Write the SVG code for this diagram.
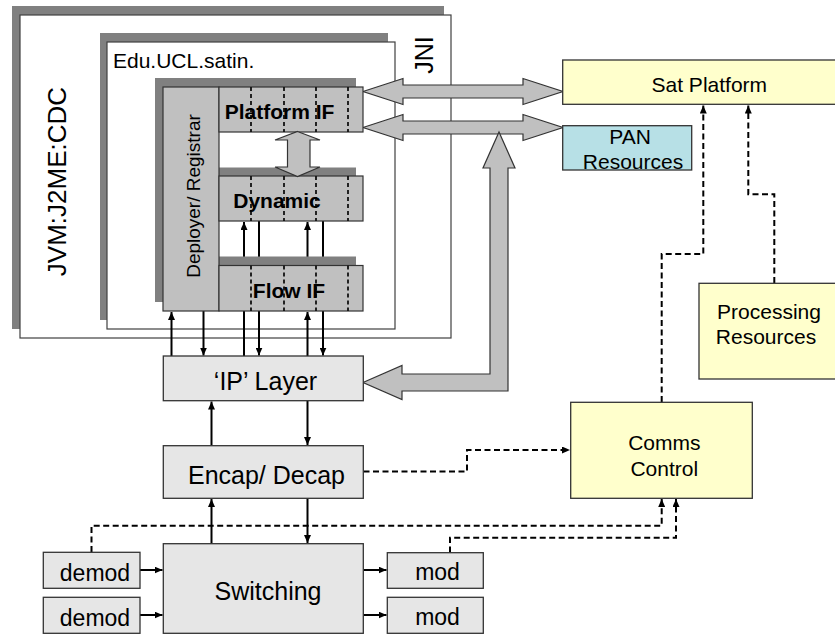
<svg xmlns="http://www.w3.org/2000/svg" width="835" height="634" viewBox="0 0 835 634">
<defs>
<style>
text{font-family:"Liberation Sans",Arial,sans-serif;fill:#000}
.frame{fill:#fff;stroke:#404040;stroke-width:1.2}
.shadow{fill:#808080}
.blk{fill:#c0c0c0;stroke:#333;stroke-width:1.2}
.lite{fill:#e6e6e6;stroke:#333;stroke-width:1.3}
.yel{fill:#ffffcc;stroke:#333;stroke-width:1.3}
.pan{fill:#b7e0e6;stroke:#333;stroke-width:1.3}
.div{stroke:#111;stroke-width:1.8;stroke-dasharray:4,3;fill:none}
.sol{stroke:#000;stroke-width:2;fill:none;marker-end:url(#ah)}
.pl{stroke:#000;stroke-width:2;fill:none}
.dsh{stroke:#000;stroke-width:2;fill:none;stroke-dasharray:6,3.5;marker-end:url(#ah)}
.big{fill:#c0c0c0;stroke:#333;stroke-width:1.2}
.b21{font-size:21px;font-weight:bold;text-anchor:middle}
.t21{font-size:21px;text-anchor:middle}
.t25{font-size:25px;text-anchor:middle}
.t23{font-size:23px;text-anchor:middle}
</style>
<marker id="ah" viewBox="0 0 8 7" refX="8" refY="3.5" markerWidth="8" markerHeight="7" markerUnits="userSpaceOnUse" orient="auto">
<path d="M0,0 L8,3.5 L0,7 z" fill="#000"/>
</marker>
</defs>

<g id="jvm">
<rect class="shadow" x="12" y="6" width="432" height="323"/>
<rect class="frame" x="20" y="15" width="431" height="323"/>
<text x="66" y="181.5" font-size="26" text-anchor="middle" transform="rotate(-90 66 181.5)">JVM:J2ME:CDC</text>
<text x="433" y="55" font-size="25" text-anchor="middle" transform="rotate(-90 433 55)">JNI</text>
</g>

<g id="edu">
<rect class="shadow" x="100" y="33" width="288" height="287"/>
<rect class="frame" x="107" y="42" width="288" height="287"/>
<text x="113" y="68" font-size="21">Edu.UCL.satin.</text>
</g>

<g id="connectors">
<path class="sol" d="M171.5,356 V312"/>
<path class="sol" d="M203.5,311 V355.5"/>
<path class="sol" d="M244,356 V222"/>
<path class="sol" d="M259,221 V355.5"/>
<path class="sol" d="M307.5,356 V312"/>
<path class="sol" d="M307.5,265 V222"/>
<path class="sol" d="M323,221 V355.5"/>
<path class="sol" d="M211.5,445.5 V401.5"/>
<path class="sol" d="M307.5,401 V445"/>
<path class="sol" d="M211.5,543.5 V499"/>
<path class="sol" d="M307.5,498.5 V543"/>
<path class="sol" d="M140,570 H162.5"/>
<path class="sol" d="M140,615 H162.5"/>
<path class="sol" d="M363.5,570 H386.5"/>
<path class="sol" d="M363.5,615 H386.5"/>
<path class="dsh" d="M363.5,471.5 H467 V450 H570"/>
<path class="dsh" d="M91.5,552 V525.7 H661.7 V499"/>
<path class="dsh" d="M450,552.5 V537.7 H676 V499"/>
<path class="dsh" d="M661.7,402 V254 H703.3 V105.5"/>
<path class="dsh" d="M774.3,283 V194.3 H748.3 V105.5"/>
<polygon class="big" points="363,91.5 403,78.5 403,85 523,85 523,78.5 563,91.5 523,104.5 523,98 403,98 403,104.5"/>
<polygon class="big" points="363,127.5 403,114.5 403,121 523,121 523,114.5 563,127.5 523,140.5 523,134 403,134 403,140.5"/>
<polygon class="big" points="363,382.5 402,365.5 402,374 490,374 490,168 483,168 499,132 515,168 508,168 508,391 402,391 402,399.5"/>
</g>

<g id="satin-core">
<rect class="shadow" x="155" y="78" width="56" height="224"/>
<rect class="shadow" x="211" y="78" width="145" height="45"/>
<rect class="shadow" x="211" y="167.5" width="145" height="45"/>
<rect class="shadow" x="211" y="256.5" width="145" height="45"/>
</g>

<g id="deployer">
<rect class="blk" x="163" y="87" width="56" height="224"/>
<text x="200" y="196" font-size="19" text-anchor="middle" transform="rotate(-90 200 196)">Deployer/ Registrar</text>
</g>

<g id="platform-if">
<rect class="blk" x="219" y="87" width="144" height="45"/>
<path class="div" d="M251,87 V132 M284,87 V132 M316,87 V132 M348,87 V132"/>
<text class="b21" x="279.5" y="119">Platform IF</text>
</g>

<g id="dynamic">
<rect class="blk" x="219" y="176" width="144" height="45"/>
<path class="div" d="M251,176 V221 M284,176 V221 M316,176 V221 M348,176 V221"/>
<text class="b21" x="277" y="208">Dynamic</text>
</g>

<g id="flow-if">
<rect class="blk" x="219" y="265.5" width="144" height="45.5"/>
<path class="div" d="M251,265.5 V311 M284,265.5 V311 M316,265.5 V311 M348,265.5 V311"/>
<text class="b21" x="289" y="298">Flow IF</text>
</g>

<g id="pif-dyn-arrow">
<polygon class="big" points="297.5,131.5 320,140 310,140 310,167 320,167 297.5,176.5 275,167 287.5,167 287.5,140 275,140"/>
</g>

<g id="ip-layer">
<rect class="lite" x="163.3" y="356" width="200" height="44.7"/>
<text class="t25" x="265.5" y="390">‘IP’ Layer</text>
</g>

<g id="encap">
<rect class="lite" x="163.3" y="445.7" width="200" height="52.6"/>
<text class="t25" x="266.5" y="484">Encap/ Decap</text>
</g>

<g id="switching">
<rect class="lite" x="163.3" y="543.7" width="200" height="89.6"/>
<text class="t25" x="268" y="599.5">Switching</text>
</g>

<g id="demod1">
<rect class="lite" x="43.3" y="552.3" width="96.7" height="36"/>
<text class="t23" x="95" y="580.7">demod</text>
</g>
<g id="demod2">
<rect class="lite" x="43.3" y="597.3" width="96.7" height="36"/>
<text class="t23" x="95" y="626">demod</text>
</g>
<g id="mod1">
<rect class="lite" x="387.3" y="552.7" width="96" height="35.6"/>
<text class="t23" x="437.5" y="580">mod</text>
</g>
<g id="mod2">
<rect class="lite" x="387.3" y="597.3" width="96" height="36"/>
<text class="t23" x="437.5" y="625">mod</text>
</g>

<g id="sat-platform">
<rect class="yel" x="562.7" y="60" width="275" height="44.3"/>
<text class="t21" x="709.3" y="91.7">Sat Platform</text>
</g>

<g id="pan">
<rect class="pan" x="562.7" y="125.7" width="129" height="44.3"/>
<text class="t21" x="630" y="144.3">PAN</text>
<text class="t21" x="633" y="169">Resources</text>
</g>

<g id="processing">
<rect class="yel" x="699" y="283.3" width="138" height="95.7"/>
<text class="t21" x="769" y="319.3">Processing</text>
<text class="t21" x="766" y="344">Resources</text>
</g>

<g id="comms">
<rect class="yel" x="570.7" y="402.3" width="181.6" height="96"/>
<text class="t21" x="664.3" y="450">Comms</text>
<text class="t21" x="664.3" y="476">Control</text>
</g>
</svg>
